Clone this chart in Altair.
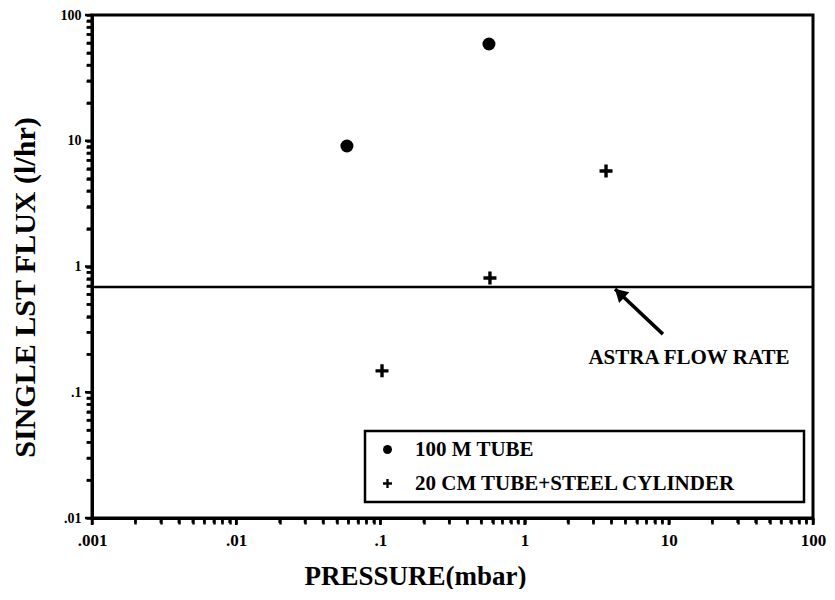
import altair as alt
import pandas as pd

# ---- data ----
series_names = ["100 M TUBE", "20 CM TUBE+STEEL CYLINDER"]
tube_x = [0.0586, 0.566]
tube_y = [9.08, 58.8]
cyl_x = [0.1026, 0.575, 3.67]
cyl_y = [0.148, 0.81, 5.75]
astra_flow = [0.687]
arrow_x = [9.1, 4.24]
arrow_y = [0.29, 0.662]
head_x = [4.55]
head_y = [0.613]
note_x = [13.8]
note_y = [0.187]
note_text = ["ASTRA FLOW RATE"]
x_major = [0.001, 0.01, 0.1, 1, 10, 100]
x_labels = [".001", ".01", ".1", "1", "10", "100"]
y_major = [0.01, 0.1, 1, 10, 100]
y_labels = [".01", ".1", "1", "10", "100"]

FONT = "Liberation Serif"
W, H = 721, 503
# filled plus (cross) polygon
PLUS = ("M-0.26,-1L0.26,-1L0.26,-0.26L1,-0.26L1,0.26L0.26,0.26L0.26,1L-0.26,1L-0.26,0.26"
        "L-1,0.26L-1,-0.26L-0.26,-0.26Z")


def all_ticks(major):
    return [m * v for v in major[:-1] for m in range(1, 10)] + [major[-1]]


def minor_ticks(major):
    return [m * v for v in major[:-1] for m in range(2, 10)]


def label_expr(major, labels):
    parts = [f"datum.value == {v} ? '{l}'" for v, l in zip(major, labels)]
    return " : ".join(parts) + " : ''"


pts = pd.DataFrame({
    "x": tube_x + cyl_x,
    "y": tube_y + cyl_y,
    "series": [series_names[0]] * len(tube_x) + [series_names[1]] * len(cyl_x),
})
rule_df = pd.DataFrame({"y": astra_flow})
arrow_df = pd.DataFrame({"x": arrow_x, "y": arrow_y})
head_df = pd.DataFrame({"x": head_x, "y": head_y})
note_df = pd.DataFrame({"x": note_x, "y": note_y, "t": note_text})

xscale = alt.Scale(type="log", domain=[x_major[0], x_major[-1]], nice=False)
yscale = alt.Scale(type="log", domain=[y_major[0], y_major[-1]], nice=False)

x_enc = alt.X("x:Q", scale=xscale, title="PRESSURE(mbar)", axis=alt.Axis(
    values=all_ticks(x_major), labelExpr=label_expr(x_major, x_labels),
    ticks=True, tickSize=6, tickColor="black", tickWidth=2.5,
    labelFlush=False, labelOverlap=False, domainColor="black", domainWidth=3,
    labelFontSize=17, labelPadding=8, grid=False,
    titleFontSize=27, titleX=323, titleY=58, titleBaseline="middle", titleAlign="center"))
y_enc = alt.Y("y:Q", scale=yscale, title="SINGLE LST FLUX (l/hr)", axis=alt.Axis(
    values=all_ticks(y_major), labelExpr=label_expr(y_major, y_labels),
    ticks=True, tickSize=6, tickColor="black", tickWidth=2.5,
    labelFlush=False, labelOverlap=False, domainColor="black", domainWidth=3,
    labelFontSize=14, labelPadding=5, grid=False,
    titleFontSize=30, titleX=-67, titleY=272, titleBaseline="middle", titleAlign="center"))


# extra tick marks placed by the scales (majors slightly longer)
def x_ticks(vals, length):
    return alt.Chart(pd.DataFrame({"x": vals})).mark_rule(color="black", strokeWidth=2.5).encode(
        x=x_enc, y=alt.value(H), y2=alt.value(H + length))


def y_ticks(vals, length):
    return alt.Chart(pd.DataFrame({"y": vals})).mark_rule(color="black", strokeWidth=2.5).encode(
        y=y_enc, x=alt.value(-length), x2=alt.value(0))


pad = "\u2800" * 4

points = alt.Chart(pts).mark_point(filled=True, color="black", opacity=1, size=169).encode(
    x=x_enc, y=y_enc,
    shape=alt.Shape("series:N", scale=alt.Scale(domain=series_names, range=["circle", PLUS]),
                    legend=alt.Legend(title=None, orient="none", legendX=273, legendY=416,
                                      labelExpr=f"datum.label + '{pad}'", labelLimit=700)),
)
rule = alt.Chart(rule_df).mark_rule(color="black", strokeWidth=2.5).encode(y=y_enc)
arrow = alt.Chart(arrow_df).mark_line(color="black", strokeWidth=3.5).encode(x=x_enc, y=y_enc)
head = alt.Chart(head_df).mark_point(shape="triangle-up", filled=True, color="black", opacity=1,
                                     size=220, angle=313).encode(x=x_enc, y=y_enc)
note = alt.Chart(note_df).mark_text(font=FONT, fontSize=21, fontWeight="bold", color="black",
                                    align="center", baseline="middle").encode(x=x_enc, y=y_enc, text="t:N")

chart = alt.layer(
    points, rule, arrow, head, note,
    x_ticks(x_major, 7), x_ticks(minor_ticks(x_major), 5),
    y_ticks(y_major, 7), y_ticks(minor_ticks(y_major), 5),
).properties(
    width=W, height=H,
    padding={"left": 2, "top": 0, "right": 0, "bottom": 0},
).configure_view(stroke="black", strokeWidth=3).configure_axis(
    labelFont=FONT, labelFontWeight="bold", labelColor="black",
    titleFont=FONT, titleFontWeight="bold", titleColor="black",
).configure_legend(
    strokeColor="black", strokeWidth=2.5, padding=8, symbolOffset=4,
    labelFont=FONT, labelFontSize=21, labelFontWeight="bold", labelColor="black",
    symbolSize=80, symbolFillColor="black", symbolStrokeColor="black",
    labelOffset=17, rowPadding=12, fillColor="white",
)

chart.save("out.html", embed_options={"renderer": "svg", "actions": False})
